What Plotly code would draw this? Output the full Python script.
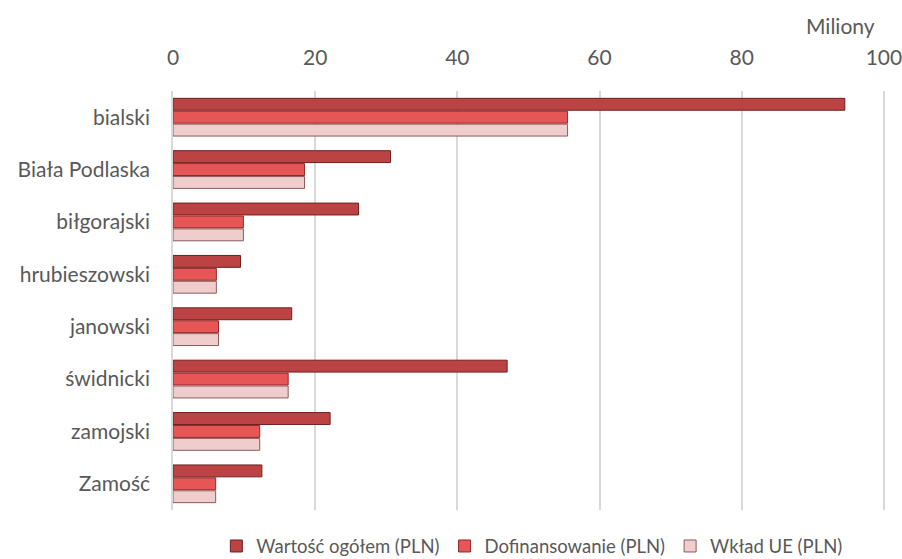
import plotly.graph_objects as go

categories = ["bialski", "Biała Podlaska", "biłgorajski", "hrubieszowski",
              "janowski", "świdnicki", "zamojski", "Zamość"]
wartosc = [94.5, 30.6, 26.1, 9.5, 16.7, 47.0, 22.1, 12.5]
dofinansowanie = [55.5, 18.5, 9.9, 6.1, 6.4, 16.2, 12.2, 6.0]
wklad_ue = [55.5, 18.5, 9.9, 6.1, 6.4, 16.2, 12.2, 6.0]
series_names = ["Wartość ogółem (PLN)", "Dofinansowanie (PLN)", "Wkład UE (PLN)"]
tick_vals = [0, 20, 40, 60, 80, 100]

fills = ["#BC4343", "#E65656", "#EFCDCD"]
borders = ["#6E1F1F", "#8E2A2A", "#8E5A5A"]

fig = go.Figure()
for name, vals, fc, lc in zip(series_names, [wartosc, dofinansowanie, wklad_ue], fills, borders):
    fig.add_trace(go.Bar(
        name=name, y=categories, x=vals, orientation="h",
        marker=dict(color=fc, line=dict(color=lc, width=1)),
    ))

font_family = "Lato, 'Open Sans', sans-serif"
fig.update_layout(
    width=902, height=559,
    margin=dict(l=173, r=17, t=91, b=49, autoexpand=False),
    paper_bgcolor="white", plot_bgcolor="white",
    barmode="group", bargap=0.26, bargroupgap=0.08,
    font=dict(family=font_family, size=21, color="#595959"),
    showlegend=True,
    legend=dict(orientation="h", x=0.504, xanchor="center", y=-0.087, yanchor="middle",
                font=dict(size=18.5, color="#595959"), traceorder="normal",
                itemwidth=30),
    xaxis=dict(side="top", range=[0, 100.15], tickvals=tick_vals, ticks="",
               showgrid=True, gridcolor="#D9D9D9", gridwidth=1.5,
               zeroline=False, showline=False, ticklabelstandoff=21,
               automargin=False, ticklabeloverflow="allow",
               tickfont=dict(size=21, color="#595959")),
    yaxis=dict(autorange="reversed", ticks="", showgrid=False,
               showline=True, linecolor="#D9D9D9", linewidth=1.5,
               automargin=False,
               ticklabelstandoff=17, tickfont=dict(size=21, color="#595959")),
    annotations=[dict(text="Miliony", xref="paper", yref="paper",
                      x=(840 - 173) / 712, y=(91 - 25) / 419 + 1, xanchor="center",
                      yanchor="middle", showarrow=False,
                      font=dict(size=21, color="#595959"))],
)

fig.write_html("out.html", config={"displayModeBar": False},
               post_script="document.body.style.margin='0';")
